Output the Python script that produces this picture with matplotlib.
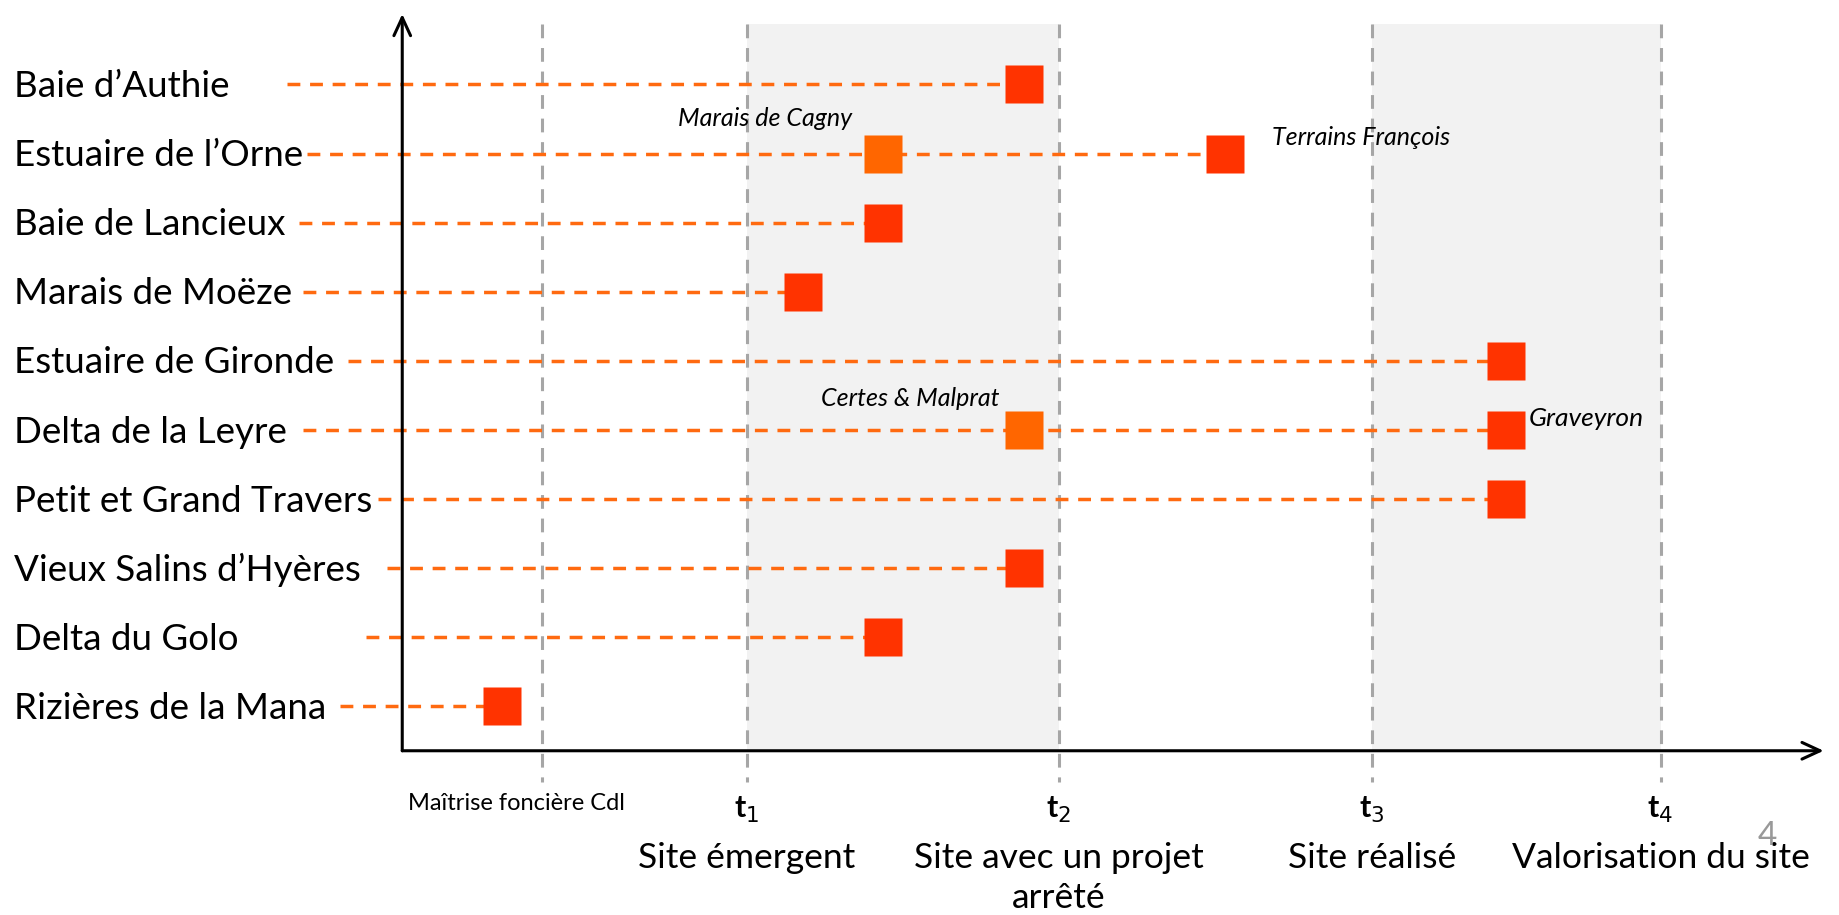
import matplotlib.pyplot as plt
from matplotlib.patches import Rectangle

plt.rcParams['font.family'] = ['Lato', 'DejaVu Sans']

# ---------- donnees ----------
sites = ["Baie d\u2019Authie", "Estuaire de l\u2019Orne", "Baie de Lancieux",
         "Marais de Mo\u00ebze", "Estuaire de Gironde", "Delta de la Leyre",
         "Petit et Grand Travers", "Vieux Salins d\u2019Hy\u00e8res",
         "Delta du Golo", "Rizi\u00e8res de la Mana"]

# debut des pointilles (echelle des temps)
debut_ligne = [-0.368, -0.304, -0.330, -0.319, -0.173, -0.319, -0.079, -0.049, -0.116, -0.199]
# position principale (rouge)
position = [1.989, 2.634, 1.538, 1.283, 3.531, 3.531, 3.531, 1.989, 1.538, 0.319]
# deuxieme site (orange) : (ligne, position)
secondaires = [(1, 1.538), (5, 1.989)]
noms_annot = ["Marais de Cagny", "Terrains Fran\u00e7ois", "Certes & Malprat", "Graveyron"]

etapes_x = [0.447, 1.103, 2.101, 3.103, 4.026]
etapes_t = ["", "t$_1$", "t$_2$", "t$_3$", "t$_4$"]
etapes_nom = ["", "Site \u00e9mergent", "Site avec un projet\narr\u00eat\u00e9",
              "Site r\u00e9alis\u00e9", "Valorisation du site"]

ROUGE = '#FF3300'
ORANGE = '#FF6600'
POINTILLE = '#FF6A10'
GRIS = '#A6A6A6'

fig = plt.figure(figsize=(18.39, 9.15), dpi=100)
ax = fig.add_axes([0, 0, 1, 1])
ax.set_xlim(-1.287, 4.597)
ax.set_ylim(12.02, -1.222)
ax.axis('off')

y_axe = 9.643
y_haut = -0.88

# zones grisees
ax.add_patch(Rectangle((etapes_x[1], y_haut), etapes_x[2] - etapes_x[1], y_axe - y_haut,
                       color='#F2F2F2', zorder=0, lw=0))
ax.add_patch(Rectangle((etapes_x[3], y_haut), etapes_x[4] - etapes_x[3], y_axe - y_haut,
                       color='#F2F2F2', zorder=0, lw=0))

# lignes verticales
for x in etapes_x:
    ax.plot([x, x], [y_haut, 10.1], color=GRIS, lw=2.2, dashes=(4.5, 3.2), zorder=1)

# axes avec fleches
fleche = dict(arrowstyle='->,head_length=1.3,head_width=0.6', lw=2.2, color='black',
              shrinkA=0, shrinkB=0)
ax.annotate("", xy=(0, -1.02), xytext=(0, y_axe), arrowprops=fleche, zorder=3)
ax.annotate("", xy=(4.548, y_axe), xytext=(0, y_axe), arrowprops=fleche, zorder=3)

# sites
for i, nom in enumerate(sites):
    ax.text(-1.242, i + 0.03, nom, fontsize=26.5, ha='left', va='center', color='black')
    ax.plot([debut_ligne[i], position[i]], [i, i], color=POINTILLE, lw=2.5,
            dashes=(3.7, 2.8), zorder=2)
    ax.plot(position[i], i, marker='s', ms=28, color=ROUGE, mec='none', zorder=4)

for ligne, x in secondaires:
    ax.plot(x, ligne, marker='s', ms=28, color=ORANGE, mec='none', zorder=4)

# annotations
ax.text(1.441, 0.5, noms_annot[0], fontsize=18, style='italic', ha='right', va='center')
ax.text(2.784, 0.77, noms_annot[1], fontsize=18, style='italic', ha='left', va='center')
ax.text(1.91, 4.55, noms_annot[2], fontsize=18, style='italic', ha='right', va='center')
ax.text(3.605, 4.84, noms_annot[3], fontsize=19, style='italic', ha='left', va='center')

# legende du bas
ax.text(0.02, 10.4, "Ma\u00eetrise fonci\u00e8re Cdl", fontsize=17, ha='left', va='center')
for x, t, nom in zip(etapes_x, etapes_t, etapes_nom):
    if t:
        ax.text(x, 10.5, t, fontsize=22, fontweight='bold', ha='center', va='center')
    if nom:
        ax.text(x, 10.97, nom, fontsize=25.5, ha='center', va='top', linespacing=1.3)

ax.text(4.368, 10.87, "4", fontsize=24, color='#999999', ha='center', va='center')

fig.savefig("out.png", dpi=100)
